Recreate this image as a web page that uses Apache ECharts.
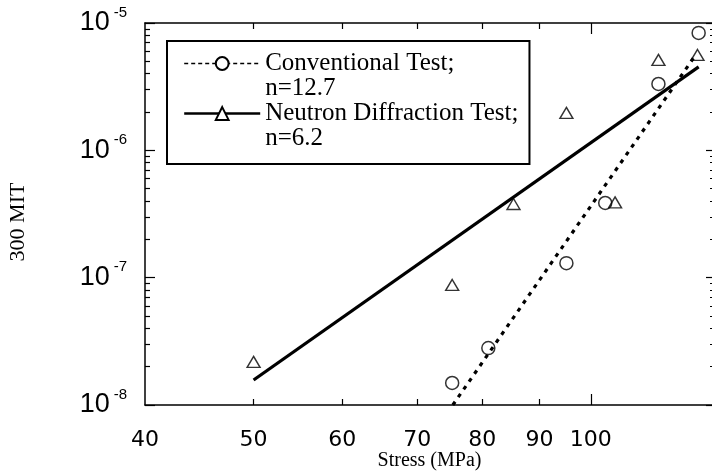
<!DOCTYPE html>
<html>
<head>
<meta charset="utf-8">
<script src="https://cdn.jsdelivr.net/npm/echarts@6/dist/echarts.min.js"></script>
<style>
  html, body { margin: 0; padding: 0; background: #fff; }
  #chart { width: 712px; height: 474px; }
</style>
</head>
<body>
<div id="chart"></div>
<script>
// points: stress (MPa) vs rate
const convStress = [75.2, 81.0, 95.1, 103.0, 114.9, 124.8]
const convRate = [1.49e-8, 2.8e-8, 1.30e-7, 3.86e-7, 3.32e-6, 8.36e-6]
const neutStress = [50.0, 75.2, 85.3, 95.1, 105.1, 114.9, 124.5]
const neutRate = [2.18e-8, 8.77e-8, 3.79e-7, 1.97e-6, 3.9e-7, 5.13e-6, 5.61e-6]

// fitted power-law lines (end points)
const convFitStress = [75.3, 124]
const convFitRate = [1.0e-8, 5.6e-6]
const neutFitStress = [50, 124.8]
const neutFitRate = [1.57e-8, 4.52e-6]

// axis ticks / labels
const xLabels = [40, 50, 60, 70, 80, 90, 100]
const xMinorTicks = [50, 60, 70, 80, 90]
const xMajorTicks = [100]
const yMinorTicks = [
  2e-8, 3e-8, 4e-8, 5e-8, 6e-8, 7e-8, 8e-8, 9e-8,
  2e-7, 3e-7, 4e-7, 5e-7, 6e-7, 7e-7, 8e-7, 9e-7,
  2e-6, 3e-6, 4e-6, 5e-6, 6e-6, 7e-6, 8e-6, 9e-6
]

const serif = 'Liberation Serif'
const pair = (xs, ys) => xs.map((x, i) => [x, ys[i]])

const X_MIN = 39.999
const X_MAX = 128.8
const Y_MIN = 1e-8
const Y_MAX = 1e-5

function xAx(position, ticks, len, withLine) {
  return {
    type: 'log', logBase: 10, min: X_MIN, max: X_MAX, position: position,
    axisLine: { show: withLine, onZero: false, lineStyle: { color: '#000', width: 1.5 } },
    axisTick: { show: true, inside: true, length: len, customValues: ticks, lineStyle: { color: '#000', width: 1.2 } },
    axisLabel: { show: false },
    splitLine: { show: false },
    minorTick: { show: false }
  }
}
function yAx(position, ticks, len, withLine) {
  const ax = {
    type: 'log', logBase: 10, min: Y_MIN, max: Y_MAX, position: position,
    axisLine: { show: withLine, onZero: false, lineStyle: { color: '#000', width: 1.5 } },
    axisTick: { show: true, inside: true, length: len, lineStyle: { color: '#000', width: 1.2 } },
    axisLabel: { show: false },
    splitLine: { show: false },
    minorTick: { show: false }
  }
  if (ticks) ax.axisTick.customValues = ticks
  return ax
}

const xMain = xAx('bottom', xMinorTicks, 6, true)
xMain.name = 'Stress (MPa)'
xMain.nameLocation = 'middle'
xMain.nameGap = 46
xMain.nameMoveOverlap = false
xMain.nameTextStyle = { fontFamily: serif, fontSize: 20, color: '#000' }
xMain.axisLabel = {
  show: true, customValues: xLabels, margin: 24,
  formatter: v => String(Math.round(v)),
  fontFamily: 'DejaVu Sans', fontSize: 22, color: '#000'
}

const yMain = yAx('left', null, 10, true)
yMain.name = '300 MIT'
yMain.nameLocation = 'middle'
yMain.nameGap = 116
yMain.nameMoveOverlap = false
yMain.nameTextStyle = { fontFamily: serif, fontSize: 22, color: '#000', padding: [0, 16, 0, 0] }
yMain.axisLabel = {
  show: true, margin: 18,
  formatter: v => '{b|10}{s|' + Math.round(Math.log10(v)) + '}',
  rich: {
    b: { fontFamily: 'Liberation Sans', fontSize: 27, lineHeight: 36, verticalAlign: 'middle', color: '#000' },
    s: { fontFamily: 'Liberation Sans', fontSize: 15, lineHeight: 15, verticalAlign: 'top', padding: [0, 0, 0, 4], color: '#000' }
  }
}

const chart = echarts.init(document.getElementById('chart'))
chart.setOption({
  animation: false,
  color: ['#000'],
  grid: { left: 145, top: 23, right: -2, bottom: 69, containLabel: false, outerBoundsMode: 'none' },
  legend: {
    left: 167, top: 41, orient: 'vertical', selectedMode: false,
    itemWidth: 76, itemHeight: 16, itemGap: 0,
    padding: [10, 11, 13, 16],
    borderColor: '#000', borderWidth: 2, borderRadius: 0, backgroundColor: '#fff',
    textStyle: { fontFamily: serif, fontSize: 25, lineHeight: 24, color: '#000' },
    data: [
      { name: 'Conventional Test;', lineStyle: { width: 1.6, type: [4, 3] } },
      { name: 'n=12.7', itemStyle: { opacity: 0 }, lineStyle: { opacity: 0 } },
      { name: 'Neutron Diffraction Test;', lineStyle: { width: 2.4 } },
      { name: 'n=6.2', itemStyle: { opacity: 0 }, lineStyle: { opacity: 0 } }
    ]
  },
  xAxis: [
    xMain,
    xAx('bottom', xMajorTicks, 11, false),
    xAx('top', xMinorTicks, 6, true),
    xAx('top', xMajorTicks, 11, false)
  ],
  yAxis: [
    yMain,
    yAx('left', yMinorTicks, 5, false),
    yAx('right', null, 8, true),
    yAx('right', yMinorTicks, 4, false)
  ],
  series: [
    {
      name: 'Conventional Test;', type: 'line', data: pair(convFitStress, convFitRate),
      symbol: 'emptyCircle', showSymbol: false, silent: true,
      lineStyle: { color: '#000', width: 3.2, type: [4, 5.5], cap: 'butt' }, itemStyle: { color: '#000' },
      emphasis: { disabled: true }
    },
    {
      name: 'n=12.7', type: 'line', data: [], symbol: 'none',
      lineStyle: { opacity: 0 }, itemStyle: { opacity: 0 }
    },
    {
      name: 'Neutron Diffraction Test;', type: 'line', data: pair(neutFitStress, neutFitRate),
      symbol: 'emptyTriangle', showSymbol: false, silent: true,
      lineStyle: { color: '#000', width: 3.2 }, itemStyle: { color: '#000' },
      emphasis: { disabled: true }
    },
    {
      name: 'n=6.2', type: 'line', data: [], symbol: 'none',
      lineStyle: { opacity: 0 }, itemStyle: { opacity: 0 }
    },
    {
      name: 'Conventional points', type: 'scatter', data: pair(convStress, convRate),
      symbol: 'circle', symbolSize: 13, silent: true,
      itemStyle: { color: 'rgba(0,0,0,0)', borderColor: '#000', borderWidth: 1.5 }
    },
    {
      name: 'Neutron points', type: 'scatter', data: pair(neutStress, neutRate),
      symbol: 'triangle', symbolSize: [13, 11], silent: true,
      itemStyle: { color: 'rgba(0,0,0,0)', borderColor: '#000', borderWidth: 1.4 }
    }
  ]
})
</script>
</body>
</html>
